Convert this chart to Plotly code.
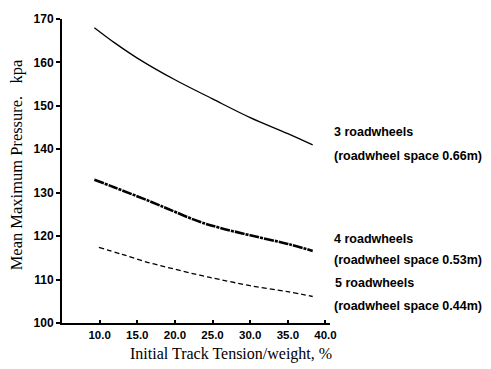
import plotly.graph_objects as go

# Data
x3 = [9.3, 12.0, 15.0, 20.0, 25.0, 30.0, 35.0, 38.3]
y3 = [168.0, 164.5, 161.0, 156.0, 151.6, 147.3, 143.6, 141.0]
x4 = [9.3, 12.0, 16.7, 20.0, 23.3, 26.0, 30.0, 35.0, 38.3]
y4 = [133.0, 131.2, 128.0, 125.6, 123.3, 121.9, 120.2, 118.2, 116.6]
x5 = [9.9, 13.0, 16.7, 20.0, 23.3, 26.0, 30.0, 35.0, 38.3]
y5 = [117.4, 115.8, 113.8, 112.4, 111.0, 110.0, 108.6, 107.2, 106.1]

x_ticks = [10, 15, 20, 25, 30, 35, 40]
x_ticktext = ["10.0", "15.0", "20.0", "25.0", "30.0", "35.0", "40.0"]
y_ticks = [100, 110, 120, 130, 140, 150, 160, 170]

labels = [
    ("3 roadwheels", 144.0),
    ("(roadwheel space 0.66m)", 138.4),
    ("4 roadwheels", 119.4),
    ("(roadwheel space 0.53m)", 114.4),
    ("5 roadwheels", 109.3),
    ("(roadwheel space 0.44m)", 103.9),
]

fig = go.Figure()
fig.add_trace(go.Scatter(x=x3, y=y3, mode="lines", line=dict(color="black", width=1.3, shape="spline")))
fig.add_trace(go.Scatter(x=x4, y=y4, mode="lines", line=dict(color="black", width=2.6, shape="spline", dash="10px,1px,3px,1px")))
fig.add_trace(go.Scatter(x=x5, y=y5, mode="lines", line=dict(color="black", width=1.3, shape="spline", dash="5px,3px")))

for i, (txt, yv) in enumerate(labels):
    fig.add_annotation(x=1.0 + (0.012 if i == 4 else 0.008), xref="paper", y=yv, yref="y",
                       text=txt, showarrow=False, xanchor="left", yanchor="middle",
                       font=dict(family="Liberation Sans", size=12.5, color="black", weight="bold"))

fig.add_annotation(x=0.63, xref="paper", y=-0.103, yref="paper", yanchor="middle",
                   text="Initial Track Tension/weight, %", showarrow=False,
                   font=dict(family="Liberation Serif", size=16, color="black"))
fig.add_annotation(x=-0.17, xref="paper", y=0.52, yref="paper", xanchor="center", yanchor="middle",
                   text="Mean Maximum Pressure.&nbsp;&nbsp;&nbsp;kpa", showarrow=False, textangle=-90,
                   font=dict(family="Liberation Serif", size=16.5, color="black"))

fig.update_layout(
    width=491, height=369,
    margin=dict(l=62, r=161, t=13, b=46),
    paper_bgcolor="white", plot_bgcolor="white",
    showlegend=False,
    xaxis=dict(range=[5, 40.6], tickvals=x_ticks, ticktext=x_ticktext,
               showgrid=False, zeroline=False, showline=True, linecolor="black", linewidth=2,
               ticks="inside", ticklen=3, tickwidth=1.5, tickcolor="black",
               tickfont=dict(family="Liberation Sans", size=11.5, color="black", weight="bold")),
    yaxis=dict(range=[100, 170], tickvals=y_ticks,
               showgrid=False, zeroline=False, showline=True, linecolor="black", linewidth=2,
               ticks="outside", ticklen=4, tickwidth=1.5, tickcolor="black",
               tickfont=dict(family="Liberation Sans", size=12, color="black", weight="bold")),
)

fig.write_html("out.html")
